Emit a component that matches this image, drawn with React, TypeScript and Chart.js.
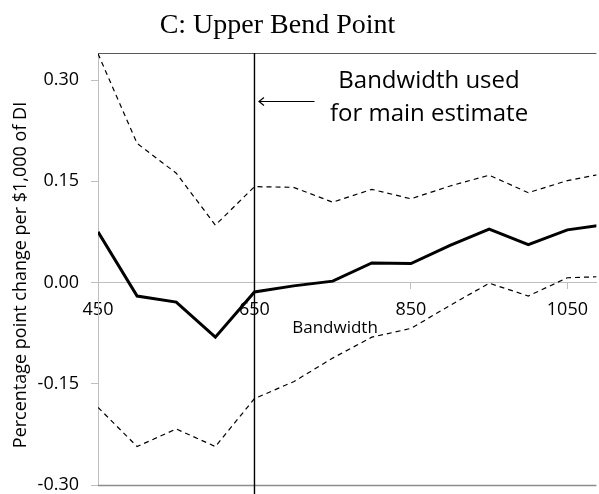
import React, { useEffect, useRef } from 'react';
import { Chart, registerables } from 'chart.js';

Chart.register(...registerables);

const bandwidths = [450, 500, 550, 600, 650, 700, 750, 800, 850, 900, 950, 1000, 1050, 1100];
const estimate = [0.075, -0.02, -0.029, -0.081, -0.014, -0.005, 0.002, 0.029, 0.028, 0.055, 0.079, 0.056, 0.078, 0.086];
const upperCI = [0.339, 0.206, 0.162, 0.085, 0.142, 0.141, 0.119, 0.138, 0.124, 0.143, 0.159, 0.133, 0.151, 0.162];
const lowerCI = [-0.185, -0.243, -0.217, -0.243, -0.172, -0.147, -0.112, -0.081, -0.068, -0.034, -0.001, -0.02, 0.007, 0.009];
const xTicks = [450, 650, 850, 1050];
const yTicks = [-0.3, -0.15, 0, 0.15, 0.3];
const mainBandwidth = 650;
const titleText = 'C: Upper Bend Point';
const xTitle = 'Bandwidth';
const yTitle = 'Percentage point change per $1,000 of DI';
const noteLines = ['Bandwidth used', 'for main estimate'];

const SANS = "'Open Sans', sans-serif";

const decor = {
  id: 'decor',
  afterDraw(chart: any) {
    const ctx = chart.ctx as CanvasRenderingContext2D;
    const ca = chart.chartArea;
    const xs = chart.scales.x;
    ctx.save();
    // top border
    ctx.strokeStyle = '#595959';
    ctx.lineWidth = 1;
    ctx.beginPath();
    ctx.moveTo(ca.left, Math.round(ca.top) + 0.5);
    ctx.lineTo(ca.right, Math.round(ca.top) + 0.5);
    ctx.stroke();
    // bottom border
    ctx.strokeStyle = '#8c8c8c';
    ctx.lineWidth = 1.5;
    ctx.beginPath();
    ctx.moveTo(ca.left, ca.bottom + 0.5);
    ctx.lineTo(ca.right, ca.bottom + 0.5);
    ctx.stroke();
    // vertical line at main bandwidth
    const vx = xs.getPixelForValue(mainBandwidth);
    ctx.strokeStyle = '#000';
    ctx.lineWidth = 1.4;
    ctx.beginPath();
    ctx.moveTo(vx, ca.top);
    ctx.lineTo(vx, chart.height);
    ctx.stroke();
    // arrow
    const ay = ca.top + 48.5;
    const ax0 = vx + 4.5;
    const ax1 = vx + 60;
    ctx.lineWidth = 1.2;
    ctx.beginPath();
    ctx.moveTo(ax1, ay);
    ctx.lineTo(ax0, ay);
    ctx.moveTo(ax0 + 5, ay - 4);
    ctx.lineTo(ax0, ay);
    ctx.lineTo(ax0 + 5, ay + 4);
    ctx.stroke();
    // note text
    ctx.fillStyle = '#000';
    ctx.font = `24px ${SANS}`;
    ctx.textAlign = 'center';
    ctx.textBaseline = 'alphabetic';
    ctx.fillText(noteLines[0], 429, 88);
    ctx.fillText(noteLines[1], 429, 121);
    // title
    ctx.font = `28px 'Liberation Serif', 'Times New Roman', serif`;
    ctx.fillText(titleText, 277.5, 33);
    // x axis title
    ctx.font = `17px ${SANS}`;
    ctx.fillText(xTitle, 335, 333);
    // y axis title
    ctx.save();
    ctx.translate(26, 275);
    ctx.rotate(-Math.PI / 2);
    ctx.font = `18px ${SANS}`;
    ctx.fillText(yTitle, 0, 0);
    ctx.restore();
    ctx.restore();
  },
};

export default function App() {
  const ref = useRef<HTMLCanvasElement>(null);
  useEffect(() => {
    if (!ref.current) return;
    const mk = (vals: number[]) => bandwidths.map((b, i) => ({ x: b, y: vals[i] }));
    const chart = new Chart(ref.current, {
      type: 'line',
      data: {
        datasets: [
          {
            label: 'Upper CI',
            data: mk(upperCI),
            borderColor: '#000',
            borderWidth: 1.2,
            borderDash: [5, 4],
            pointRadius: 0,
            tension: 0,
            fill: false,
          },
          {
            label: 'Lower CI',
            data: mk(lowerCI),
            borderColor: '#000',
            borderWidth: 1.2,
            borderDash: [5, 4],
            pointRadius: 0,
            tension: 0,
            fill: false,
          },
          {
            label: 'Estimate',
            data: mk(estimate),
            borderColor: '#000',
            borderWidth: 3,
            pointRadius: 0,
            tension: 0,
            fill: false,
          },
        ],
      },
      options: {
        animation: false,
        responsive: false,
        layout: { padding: { top: 53, left: 0, right: 0, bottom: 9 } },
        plugins: {
          legend: { display: false },
          title: { display: false },
          tooltip: { enabled: false },
        },
        scales: {
          x: {
            type: 'linear',
            min: 450,
            max: 1087,
            position: { y: 0 } as any,
            afterFit: (s: any) => {
              s.height = 0;
              s.paddingTop = 0;
              s.paddingBottom = 0;
            },
            afterBuildTicks: (s: any) => {
              s.ticks = xTicks.map((v) => ({ value: v }));
            },
            grid: { drawOnChartArea: false, drawTicks: true, tickLength: 6, color: '#bfbfbf' },
            border: { color: '#bfbfbf', width: 1 },
            ticks: {
              color: '#000',
              font: { family: SANS, size: 18, lineHeight: 1.2 },
              padding: 11,
              maxRotation: 0,
              autoSkip: false,
              callback: (v: any) => String(v),
            },
          },
          y: {
            type: 'linear',
            min: -0.3,
            max: 0.34,
            position: 'left',
            afterFit: (s: any) => {
              s.width = 98;
              s.paddingTop = 0;
              s.paddingBottom = 0;
            },
            afterBuildTicks: (s: any) => {
              s.ticks = yTicks.map((v) => ({ value: v }));
            },
            grid: { drawOnChartArea: false, drawTicks: true, tickLength: 7, color: '#bfbfbf' },
            border: { color: '#bfbfbf', width: 1 },
            ticks: {
              color: '#000',
              font: { family: SANS, size: 18, lineHeight: 1 },
              padding: 12,
              callback: (v: any) => Number(v).toFixed(2),
            },
          },
        },
      },
      plugins: [decor],
    });
    return () => chart.destroy();
  }, []);
  return (
    <div style={{ position: 'fixed', left: 0, top: 0, width: 599, height: 494, background: '#fff' }}>
      <canvas ref={ref} width={599} height={494} />
    </div>
  );
}
